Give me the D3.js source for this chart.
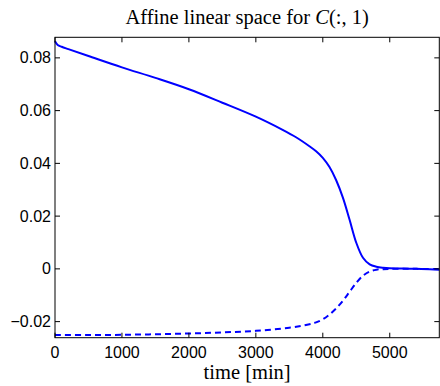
<!DOCTYPE html>
<html><head><meta charset="utf-8">
<script src="https://cdn.jsdelivr.net/npm/d3@7"></script>
<style>body{margin:0;background:#fff}</style>
</head><body>
<svg id="c" width="440" height="386"></svg>
<script>
const timeMin = [0, 40, 100, 200, 500, 1000, 1500, 2000, 2500, 3000, 3400, 3600, 3800, 3900, 4000, 4100, 4200, 4300, 4400, 4500, 4600, 4700, 4800, 4900, 5000, 5200, 5400, 5600, 5740];
const solidVals = [0.0863, 0.0849, 0.0842, 0.0833, 0.0807, 0.0764, 0.0724, 0.0681, 0.0630, 0.0577, 0.0527, 0.0499, 0.0465, 0.0446, 0.0421, 0.0386, 0.0336, 0.0270, 0.0186, 0.0099, 0.0042, 0.0017, 0.0008, 0.0004, 0.0002, 0.0001, 0.0000, -0.0001, -0.0003];
const dashTime = [0, 500, 1000, 1500, 2000, 2500, 3000, 3500, 3800, 3900, 4000, 4100, 4200, 4300, 4400, 4500, 4600, 4700, 4800, 4900, 5000, 5400, 5740];
const dashVals = [-0.0251, -0.0251, -0.0250, -0.0248, -0.0245, -0.0241, -0.0235, -0.0223, -0.0210, -0.0203, -0.0191, -0.0173, -0.0150, -0.0121, -0.0087, -0.0053, -0.0026, -0.0010, -0.0003, -0.0001, 0.0000, 0.0000, -0.0001];
const xTicks = [0, 1000, 2000, 3000, 4000, 5000];
const yTicks = [-0.02, 0, 0.02, 0.04, 0.06, 0.08];
const yTickLabels = ["\u22120.02", "0", "0.02", "0.04", "0.06", "0.08"];

const L = 55, R = 439.3, T = 37.3, B = 337.7;
const svg = d3.select("#c");
const x = d3.scaleLinear().domain([0, 5740]).range([L, R]);
const y = d3.scaleLinear().domain([-0.0261, 0.0878]).range([B, T]);

const line = d3.line().x(d => x(d[0])).y(d => y(d[1])).curve(d3.curveCatmullRom.alpha(0.5));
svg.append("path").attr("d", line(timeMin.map((t, i) => [t, solidVals[i]])))
  .attr("fill", "none").attr("stroke", "#0000ff").attr("stroke-width", 2);
svg.append("path").attr("d", line(dashTime.map((t, i) => [t, dashVals[i]])))
  .attr("fill", "none").attr("stroke", "#0000ff").attr("stroke-width", 2)
  .attr("stroke-dasharray", "6,4");

// frame
svg.append("rect").attr("x", L).attr("y", T).attr("width", R - L).attr("height", B - T)
  .attr("fill", "none").attr("stroke", "#000").attr("stroke-width", 1);

const font = "'Liberation Sans', Arial, sans-serif";
const tl = 5;
const gx = svg.append("g");
xTicks.forEach(t => {
  const px = x(t);
  gx.append("line").attr("x1", px).attr("x2", px).attr("y1", B).attr("y2", B - tl).attr("stroke", "#000");
  gx.append("line").attr("x1", px).attr("x2", px).attr("y1", T).attr("y2", T + tl).attr("stroke", "#000");
  gx.append("text").attr("x", px).attr("y", 358).attr("text-anchor", "middle")
    .attr("font-family", font).attr("font-size", 16).text(t);
});
yTicks.forEach((v, i) => {
  const py = y(v);
  gx.append("line").attr("x1", L).attr("x2", L + tl).attr("y1", py).attr("y2", py).attr("stroke", "#000");
  gx.append("line").attr("x1", R).attr("x2", R - tl).attr("y1", py).attr("y2", py).attr("stroke", "#000");
  gx.append("text").attr("x", 51).attr("y", py + 5.6).attr("text-anchor", "end")
    .attr("font-family", font).attr("font-size", 16).text(yTickLabels[i]);
});

const serif = "'Liberation Serif', 'Times New Roman', serif";
const title = svg.append("text").attr("x", (L + R) / 2).attr("y", 24).attr("text-anchor", "middle")
  .attr("font-family", serif).attr("font-size", 20.5);
title.append("tspan").text("Affine linear space for ");
title.append("tspan").attr("font-style", "italic").text("C");
title.append("tspan").text("(:, 1)");

svg.append("text").attr("x", (L + R) / 2).attr("y", 379).attr("text-anchor", "middle")
  .attr("font-family", serif).attr("font-size", 20.5).text("time [min]");
</script>
</body></html>
